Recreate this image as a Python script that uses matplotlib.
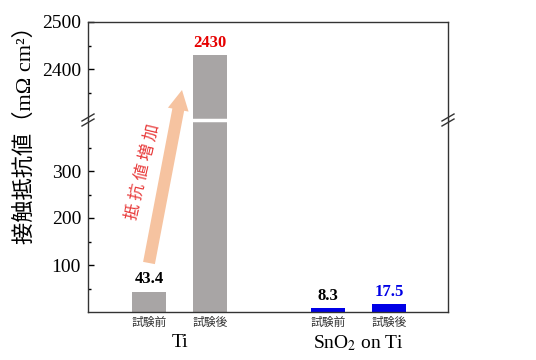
import matplotlib.pyplot as plt
from matplotlib.patches import FancyArrow
from matplotlib.lines import Line2D
from matplotlib.transforms import IdentityTransform

plt.rcParams['font.family'] = ['Liberation Serif', 'Noto Sans CJK JP']
plt.rcParams['mathtext.fontset'] = 'stix'

# data
conditions = ["試験前", "試験後", "試験前", "試験後"]
groups = ["Ti", "SnO$_2$ on Ti"]
resistance = [43.4, 2430, 8.3, 17.5]
bar_colors = ["#a8a5a5", "#a8a5a5", "#0000e6", "#0000e6"]
label_colors = ["black", "#e60000", "black", "#0000e6"]
positions = [0, 1, 2.93, 3.93]
group_centers = [0.5, 3.43]

W, H = 536, 360
fig = plt.figure(figsize=(W / 100, H / 100), dpi=100)

# pixel layout (top-origin) of the broken axis
left, right, top, brk, bottom = 88, 448, 22, 120, 312
scale = 0.47  # px per unit

ax_top = fig.add_axes([left / W, (H - brk) / H, (right - left) / W, (brk - top) / H])
ax_low = fig.add_axes([left / W, (H - bottom) / H, (right - left) / W, (bottom - brk) / H])

ax_top.set_ylim(2500 - (brk - top) / scale, 2500)
ax_low.set_ylim(0, (bottom - brk) / scale)

for ax in (ax_top, ax_low):
    ax.bar(positions, resistance, width=0.56, color=bar_colors)
    ax.set_xlim(-1.0, 4.9)
    for s in ax.spines.values():
        s.set_linewidth(1.0)
        s.set_color("#333333")
    ax.tick_params(axis="y", direction="in", length=4, width=1.0, labelsize=14, pad=5)
    ax.tick_params(axis="y", which="minor", direction="in", length=2.5, width=1.0)
    ax.tick_params(axis="x", length=0)

ax_top.spines["bottom"].set_visible(False)
ax_low.spines["top"].set_visible(False)
ax_top.set_xticks([])
ax_top.set_yticks([2400, 2500])
ax_top.set_yticks([2350, 2450], minor=True)
ax_low.set_yticks([100, 200, 300])
ax_low.set_yticks([50, 150, 250, 350], minor=True)

ax_low.set_xticks(positions)
ax_low.set_xticklabels(conditions, fontsize=8.5, color="#333333",
                       family=["Noto Sans CJK JP"])
ax_low.tick_params(axis="x", pad=2.5)

for g, c in zip(groups, group_centers):
    ax_low.annotate(g, xy=(c, 0), xycoords=("data", "axes fraction"),
                    xytext=(0, -15.5), textcoords="offset points",
                    ha="center", va="top", fontsize=14)

# value labels
for x, v, col in zip(positions, resistance, label_colors):
    ax = ax_top if v > 1000 else ax_low
    ax.annotate(f"{v:g}", xy=(x, v), xytext=(0, 3), textcoords="offset points",
                ha="center", va="bottom", fontsize=12, fontweight="bold", color=col)

# white gap across the tall bar
ax_low.add_line(Line2D([positions[1] - 0.3, positions[1] + 0.3],
                       [ax_low.get_ylim()[1]] * 2, color="white", lw=2.5,
                       clip_on=False, zorder=5))

# break marks on both spines
for xb in (left, right):
    for dy in (-2.5, 2.5):
        yb = H - brk + dy
        fig.add_artist(Line2D([xb - 6, xb + 6], [yb - 3.5, yb + 3.5], color="#333333",
                              lw=1.0, transform=IdentityTransform()))

# arrow
fig.add_artist(FancyArrow(149, H - 263, 33, 173, width=12, head_width=21,
                          head_length=20, length_includes_head=True,
                          color="#f6c3a0", ec="none", transform=IdentityTransform()))
fig.text(143 / W, (H - 172) / H, "抵 抗 値 増 加", rotation=76.5, ha="center", va="center",
         fontsize=12, color="#e83a3a", family=["Noto Sans CJK JP"],
         rotation_mode="anchor")

fig.text(25 / W, (H - 130) / H, "接触抵抗値（mΩ cm²）", rotation=90,
         ha="center", va="center", fontsize=16)

fig.savefig("out.png", dpi=100)
